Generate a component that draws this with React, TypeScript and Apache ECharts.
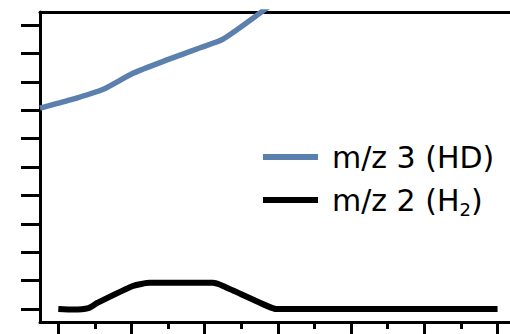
import React, { useEffect, useRef } from "react";
import * as echarts from "echarts";

// Series data (x in tick units, y in tick units)
const hdX = [-0.25, 0.16, 0.615, 1.02, 1.485, 1.937, 2.25, 2.865];
const hdY = [7.07, 7.36, 7.74, 8.3, 8.77, 9.2, 9.5, 10.63];
const h2X = [0, 0.2, 0.41, 0.53, 1.02, 1.25, 2.11, 2.25, 2.85, 2.98, 6];
const h2Y = [0, -0.02, 0.03, 0.21, 0.81, 0.92, 0.92, 0.81, 0.11, 0, 0];

const seriesNames = ["m/z 3 (HD)", "m/z 2 (H2)"];
const xMajorTicks = [0, 1, 2, 3, 4, 5, 6];
const xMinorTicks = [0.5, 1.5, 2.5, 3.5, 4.5, 5.5];
const yTicks = [0, 1, 2, 3, 4, 5, 6, 7, 8, 9, 10];

const X_MIN = -0.25;
const X_MAX = 6.17;
const Y_MIN = -0.458;
const Y_MAX = 10.458;

export default function App() {
  const ref = useRef<HTMLDivElement>(null);

  useEffect(() => {
    if (!ref.current) return;
    const chart = echarts.init(ref.current, undefined, { renderer: "svg" });
    const axisLine = { show: true, onZero: false, lineStyle: { color: "#000", width: 3 } };
    const font = "DejaVu Sans";
    chart.setOption({
      animation: false,
      backgroundColor: "#fff",
      grid: { left: 40, top: 12, right: 0, bottom: 12 },
      legend: {
        orient: "vertical",
        left: 258,
        top: 137,
        itemGap: 13,
        itemWidth: 55,
        itemHeight: 6,
        icon: "rect",
        data: seriesNames,
        formatter: (name: string) =>
          name === "m/z 2 (H2)"
            ? "{a|m/z 2 (H}{s|2}{t|)}"
            : "{a|" + name + "}",
        textStyle: {
          fontFamily: font,
          fontSize: 30,
          color: "#000",
          rich: {
            a: { fontFamily: font, fontSize: 30, lineHeight: 36, color: "#000", padding: [0, 0, 0, 9] },
            t: { fontFamily: font, fontSize: 30, lineHeight: 36, color: "#000" },
            s: { fontFamily: font, fontSize: 18, lineHeight: 18, color: "#000", verticalAlign: "bottom" },
          },
        },
      },
      xAxis: [
        {
          type: "value",
          min: X_MIN,
          max: X_MAX,
          position: "bottom",
          axisLine,
          axisTick: {
            show: true,
            customValues: xMajorTicks,
            length: 14,
            lineStyle: { color: "#000", width: 3 },
          },
          axisLabel: { show: false },
          splitLine: { show: false },
        },
        {
          type: "value",
          min: X_MIN,
          max: X_MAX,
          position: "bottom",
          axisLine: { show: false, onZero: false },
          axisTick: {
            show: true,
            customValues: xMinorTicks,
            length: 7,
            lineStyle: { color: "#000", width: 3 },
          },
          axisLabel: { show: false },
          splitLine: { show: false },
        },
        {
          type: "value",
          min: X_MIN,
          max: X_MAX,
          position: "top",
          axisLine,
          axisTick: { show: false },
          axisLabel: { show: false },
          splitLine: { show: false },
        },
      ],
      yAxis: {
        type: "value",
        min: Y_MIN,
        max: Y_MAX,
        position: "left",
        axisLine,
        axisTick: {
          show: true,
          customValues: yTicks,
          length: 19,
          lineStyle: { color: "#000", width: 3 },
        },
        axisLabel: { show: false },
        splitLine: { show: false },
      },
      series: [
        {
          name: seriesNames[0],
          type: "line",
          data: hdX.map((x, i) => [x, hdY[i]]),
          showSymbol: false,
          smooth: 0.2,
          clip: true,
          color: "#5b80ad",
          lineStyle: { color: "#5b80ad", width: 5.5 },
        },
        {
          name: seriesNames[1],
          type: "line",
          data: h2X.map((x, i) => [x, h2Y[i]]),
          showSymbol: false,
          smooth: 0.2,
          clip: true,
          color: "#000",
          lineStyle: { color: "#000", width: 6 },
        },
      ],
    });
    return () => chart.dispose();
  }, []);

  return (
    <div
      ref={ref}
      style={{ position: "fixed", left: 0, top: 0, width: 510, height: 334, background: "#fff" }}
    />
  );
}
